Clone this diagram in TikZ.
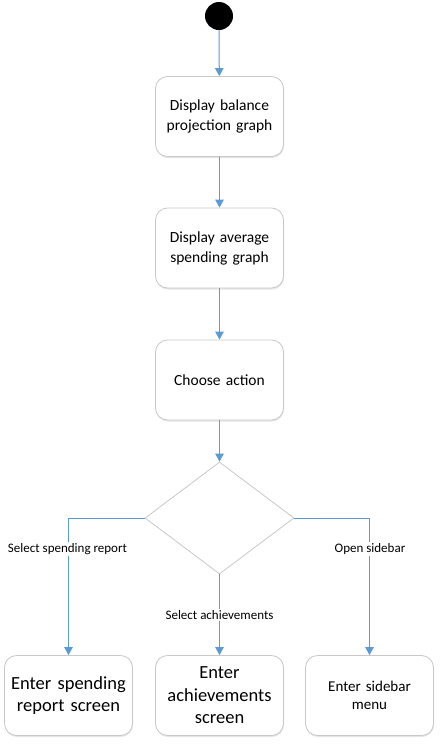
\documentclass[tikz,border=0pt]{standalone}
\usepackage{fontspec}
\setmainfont{Carlito}
\usetikzlibrary{shapes.geometric,arrows.meta,shadows}
\definecolor{flow}{HTML}{5B9BD5}
\definecolor{edge}{HTML}{C8C8C8}
\tikzset{
  actbox/.style={draw=edge, line width=0.8pt, fill=white, rounded corners=12pt,
    minimum width=127pt, minimum height=80pt, inner sep=2pt, align=center,
    text width=124pt,
    drop shadow={shadow xshift=0.5pt, shadow yshift=-1.5pt, opacity=0.25, fill=black!40}},
  flowline/.style={draw=flow, line width=1pt, -{Triangle[length=8pt,width=8.5pt]}},
  lbl/.style={fill=white, inner sep=1pt, font=\fontsize{13}{14}\selectfont}
}
\begin{document}
\begin{tikzpicture}[x=1pt,y=-1pt]
\useasboundingbox (0,0) rectangle (440,745);
\node[circle, fill=black, minimum size=28pt, inner sep=0pt] (start) at (219,16) {};
\node[actbox, font=\fontsize{15.5}{20}\selectfont] (b1) at (219.5,116.5) {Display balance\\projection graph};
\node[actbox, font=\fontsize{15.5}{20}\selectfont] (b2) at (219.5,248) {Display average\\spending graph};
\node[actbox, font=\fontsize{15.5}{20}\selectfont] (b3) at (219.5,380) {Choose action};
\node[diamond, draw=edge, line width=0.8pt, fill=white, minimum width=149pt, minimum height=112pt, inner sep=0pt, aspect=1.33] (d) at (219.5,518) {};
\node[actbox, font=\fontsize{18.5}{22}\selectfont] (bl) at (68.5,695.5) {Enter spending\\report screen};
\node[actbox, font=\fontsize{18.5}{22.5}\selectfont] (bm) at (219.5,695.5) {Enter\\achievements\\screen};
\node[actbox, font=\fontsize{15}{18.5}\selectfont] (br) at (369.5,695.5) {Enter sidebar\\menu};

\draw[flowline] (start) -- (b1);
\draw[flowline] (b1) -- (b2);
\draw[flowline] (b2) -- (b3);
\draw[flowline] (b3) -- (d.north);
\draw[flowline] (d.west) -| (bl.north);
\draw[flowline] (d.east) -| (br.north);
\draw[flowline] (d.south) -- (bm.north);

\node[lbl] (l1) at (67.5,549) {Select spending report};
\node[lbl] (l2) at (370,549) {Open sidebar};
\node[lbl] (l3) at (219.5,615) {Select achievements};
\end{tikzpicture}
\end{document}
